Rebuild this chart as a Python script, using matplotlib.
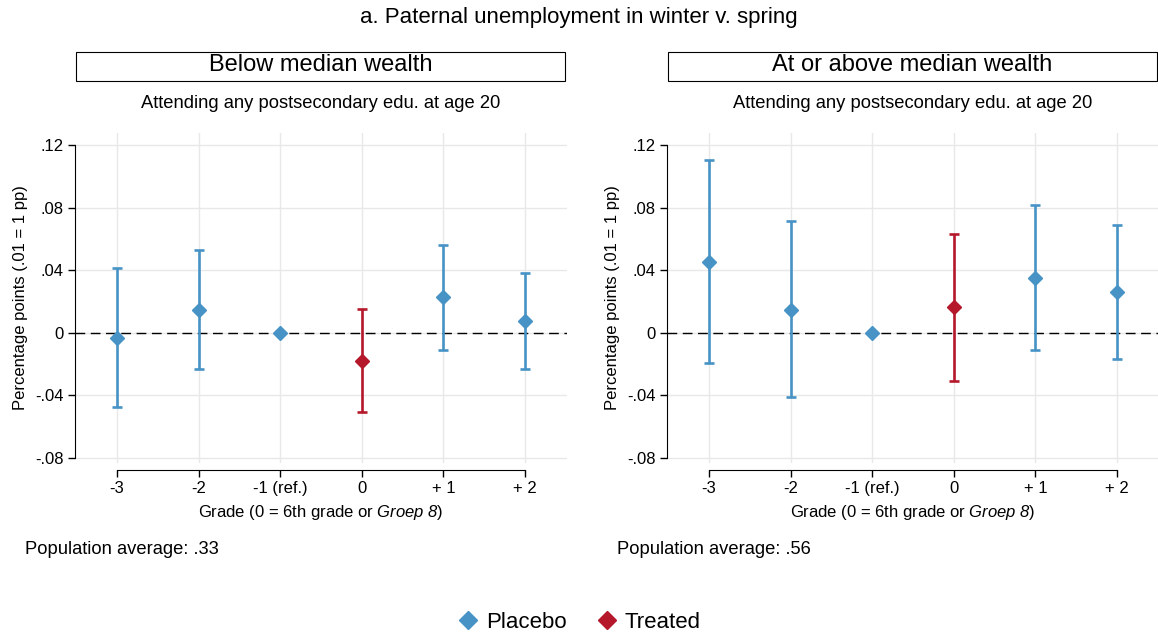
import matplotlib
matplotlib.use('Agg')
import matplotlib.pyplot as plt
from matplotlib.patches import Rectangle
from matplotlib.lines import Line2D

plt.rcParams['font.family'] = ['Liberation Sans', 'DejaVu Sans']
# only math text in the figure is the italic "Groep 8", digits included
plt.rcParams['mathtext.fontset'] = 'custom'
plt.rcParams['mathtext.rm'] = 'Liberation Sans:italic'
plt.rcParams['mathtext.it'] = 'Liberation Sans:italic'

# Data
grades = [-3, -2, -1, 0, 1, 2]
grade_labels = ['-3', '-2', '-1 (ref.)', '0', '+ 1', '+ 2']
treated_grade = 0

panel_titles = ['Below median wealth', 'At or above median wealth']
pop_avgs = ['.33', '.56']

below_est = [-0.003, 0.0147, 0.0, -0.0177, 0.0226, 0.0074]
below_lo = [-0.0472, -0.0234, 0.0, -0.0506, -0.0109, -0.0232]
below_hi = [0.0417, 0.0532, 0.0, 0.0153, 0.0562, 0.0385]

above_est = [0.0455, 0.0149, 0.0, 0.0162, 0.0353, 0.026]
above_lo = [-0.0194, -0.0413, 0.0, -0.0306, -0.0109, -0.017]
above_hi = [0.1104, 0.0713, 0.0, 0.0632, 0.0819, 0.0691]

yticks = [-0.08, -0.04, 0, 0.04, 0.08, 0.12]
ytick_labels = ['-.08', '-.04', '0', '.04', '.08', '.12']

blue = '#4793c6'
red = '#b5182b'

W, H = 1158, 635
fig = plt.figure(figsize=(W / 100, H / 100), dpi=100)

fig.text(0.5, 1 - 18 / H, 'a. Paternal unemployment in winter v. spring',
         ha='center', va='center', fontsize=16)

panels = [(below_est, below_lo, below_hi), (above_est, above_lo, above_hi)]
ax_left_px = [75, 667]
box_px = [(76, 565), (668, 1157)]
pop_x_px = [25, 617]

for i, (est, lo, hi) in enumerate(panels):
    x0 = ax_left_px[i]
    ax = fig.add_axes([x0 / W, 1 - 463 / H, 492 / W, 330 / H])

    # spines first (moving a spine resets the ticks)
    for s in ['top', 'right']:
        ax.spines[s].set_visible(False)
    ax.spines['bottom'].set_position(('outward', 5))

    # grid and zero line
    for g in grades:
        ax.axvline(g, color='#e8e8e8', lw=1, zorder=0)
    for t in yticks:
        ax.axhline(t, color='#e8e8e8', lw=1, zorder=0)
    ax.axhline(0, color='black', lw=1, ls=(0, (7, 4)), zorder=1)

    for g, e, l, h in zip(grades, est, lo, hi):
        c = red if g == treated_grade else blue
        if g != -1:
            ax.errorbar([g], [e], yerr=[[e - l], [h - e]], fmt='none',
                        ecolor=c, elinewidth=1.9, capsize=3.5, capthick=1.9, zorder=2)
        ax.plot([g], [e], marker='D', ms=7.5, color=c, mec=c, ls='none', zorder=3)

    ax.set_xlim(-3.515, 2.515)
    ax.set_ylim(-0.0832, 0.1277)
    ax.set_xticks(grades)
    ax.set_xticklabels(grade_labels)
    ax.set_yticks(yticks)
    ax.set_yticklabels(ytick_labels)
    ax.spines['left'].set_bounds(-0.08, 0.12)
    ax.spines['bottom'].set_bounds(-3, 2)
    ax.tick_params(length=5, width=1, pad=3, labelsize=12)

    ax.set_xlabel('Grade (0 = 6th grade or $\\mathit{Groep\\ 8}$)', fontsize=12, labelpad=5)
    ax.set_ylabel('Percentage points (.01 = 1 pp)', fontsize=12, labelpad=5)

    bx0, bx1 = box_px[i]
    fig.patches.append(Rectangle((bx0 / W, 1 - 81 / H), (bx1 - bx0) / W, 29 / H,
                                 transform=fig.transFigure, fill=False,
                                 edgecolor='black', lw=0.8))
    fig.text((bx0 + bx1) / 2 / W, 1 - 65 / H, panel_titles[i],
             ha='center', va='center', fontsize=17)
    fig.text((bx0 + bx1) / 2 / W, 1 - 103 / H,
             'Attending any postsecondary edu. at age 20',
             ha='center', va='center', fontsize=13.2)
    fig.text(pop_x_px[i] / W, 1 - 549 / H, 'Population average: ' + pop_avgs[i],
             ha='left', va='center', fontsize=13.2)

handles = [Line2D([], [], marker='D', color=blue, ls='none', ms=9),
           Line2D([], [], marker='D', color=red, ls='none', ms=9)]
fig.legend(handles, ['Placebo', 'Treated'], loc='center',
           bbox_to_anchor=(0.5, 1 - 622 / H), ncol=2, frameon=False,
           fontsize=16, handletextpad=0.3, columnspacing=1.3, handlelength=1.0)

fig.savefig('out.png', dpi=100)
